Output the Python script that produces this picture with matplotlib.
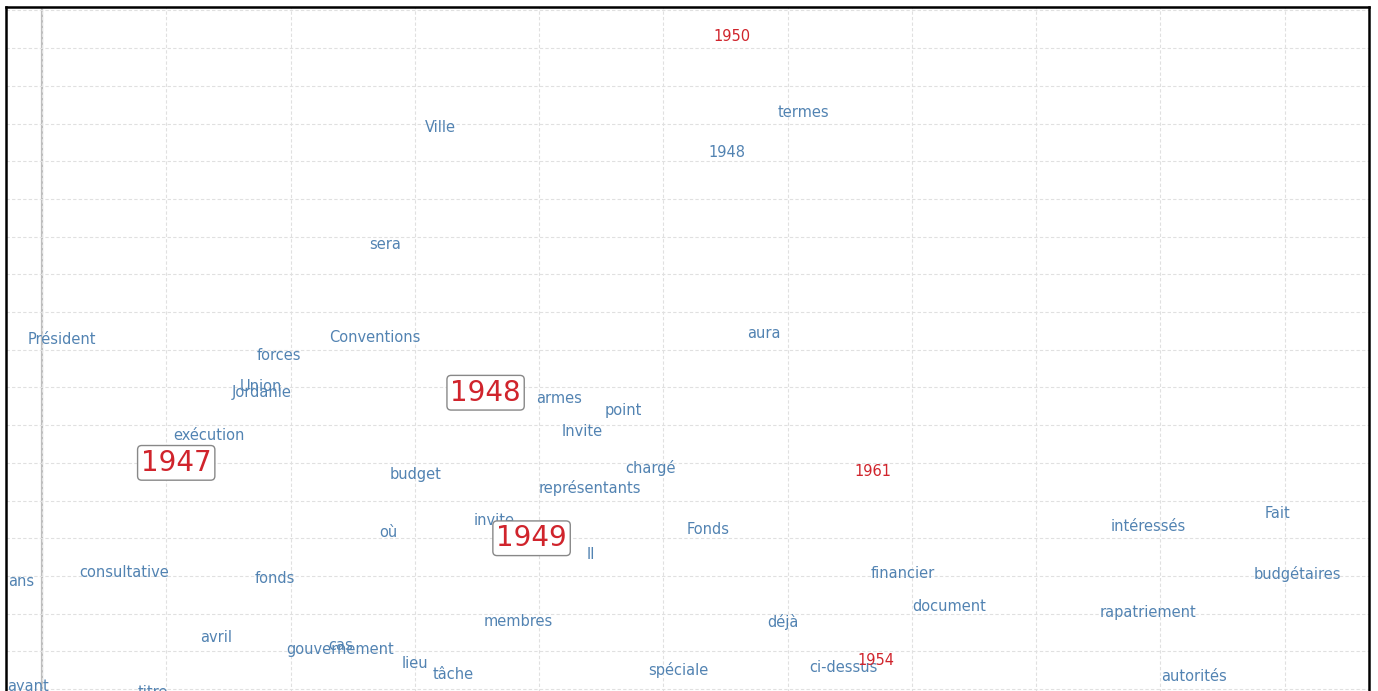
import numpy as np
import matplotlib
matplotlib.use('Agg')
import matplotlib.pyplot as plt

# word labels (blue) and their factor coordinates
words = ['Ville', 'termes', '1948', 'sera', 'aura', 'Président', 'Conventions',
         'forces', 'Union', 'Jordanie', 'armes', 'point', 'Invite', 'exécution',
         'chargé', 'budget', 'représentants', 'invite', 'où', 'Fonds', 'Il',
         'intéressés', 'Fait', 'ans', 'consultative', 'fonds', 'financier',
         'budgétaires', 'document', 'rapatriement', 'membres', 'déjà', 'avril',
         'cas', 'gouvernement', 'lieu', 'tâche', 'spéciale', 'ci-dessus',
         'autorités', 'ayant', 'titre']
word_x = [0.321, 0.613, 0.551, 0.276, 0.581, 0.016, 0.268,
          0.191, 0.176, 0.177, 0.416, 0.468, 0.435, 0.134,
          0.490, 0.301, 0.441, 0.364, 0.279, 0.536, 0.442,
          0.890, 0.994, -0.017, 0.066, 0.187, 0.693,
          1.010, 0.730, 0.890, 0.383, 0.596, 0.140,
          0.240, 0.240, 0.300, 0.331, 0.512, 0.645,
          0.927, -0.011, 0.089]
word_y = [0.295, 0.314, 0.261, 0.139, 0.022, 0.013, 0.016,
          -0.007, -0.049, -0.057, -0.065, -0.080, -0.108, -0.114,
          -0.157, -0.165, -0.183, -0.227, -0.242, -0.239, -0.271,
          -0.235, -0.217, -0.307, -0.296, -0.304, -0.297,
          -0.297, -0.341, -0.348, -0.360, -0.361, -0.382,
          -0.392, -0.398, -0.416, -0.431, -0.425, -0.421,
          -0.433, -0.446, -0.454]

# year labels (red)
years = ['1950', '1961', '1954']
year_x = [0.555, 0.669, 0.671]
year_y = [0.415, -0.162, -0.412]

# highlighted years (boxed)
main_years = ['1947', '1948', '1949']
main_x = [0.108, 0.357, 0.394]
main_y = [-0.150, -0.057, -0.250]

blue = '#5283b2'
red = '#d0242c'

fig = plt.figure(figsize=(13.78, 6.91), dpi=100)
ax = fig.add_axes([6 / 1378, 1 - 720 / 691, 1363 / 1378, 713 / 691])

ax.set_xlim(-0.029, 1.068)
ax.set_ylim(-0.491, 0.4545)
ax.set_xticks(np.arange(0, 1.01, 0.1))
ax.set_yticks(np.arange(-0.45, 0.451, 0.05))
ax.tick_params(length=0, labelbottom=False, labelleft=False)
ax.grid(True, color='#e0e0e0', linestyle=(0, (3, 2)), linewidth=0.8)
ax.axvline(0, color='#bdbdbd', linewidth=1.6, zorder=1)
for sp in ax.spines.values():
    sp.set_linewidth(1.8)
    sp.set_color('black')

for w, x, y in zip(words, word_x, word_y):
    ax.text(x, y, w, color=blue, fontsize=10.5, ha='center', va='center',
            clip_on=True, zorder=3)

for w, x, y in zip(years, year_x, year_y):
    ax.text(x, y, w, color=red, fontsize=10.5, ha='center', va='center',
            clip_on=True, zorder=3)

for w, x, y in zip(main_years, main_x, main_y):
    ax.text(x, y, w, color=red, fontsize=20, ha='center', va='center', zorder=4,
            bbox=dict(boxstyle='round,pad=0.12,rounding_size=0.15', fc='white',
                      ec='#888888', lw=1.0))

fig.savefig('out.png', dpi=100)
